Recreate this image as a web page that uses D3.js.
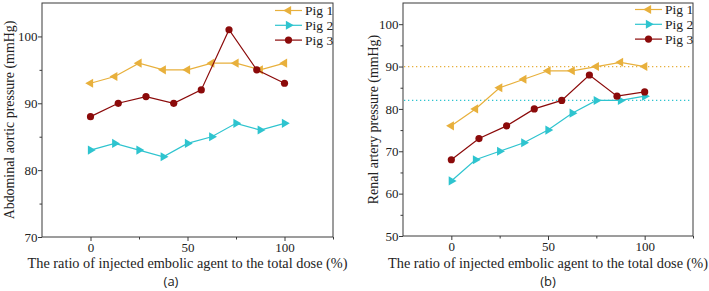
<!DOCTYPE html>
<html>
<head>
<meta charset="utf-8">
<script src="https://cdn.jsdelivr.net/npm/d3@7"></script>
<style>
  body { margin: 0; background: #fff; }
  svg { display: block; }
  .tick text { font-family: "Liberation Serif", serif; }
</style>
</head>
<body>
<div id="chart"></div>
<script>
// x positions (% of total dose)
let x_nine = [0, 12.5, 25, 37.5, 50, 62.5, 75, 87.5, 100];
let x_eight = [0, 14.3, 28.6, 42.9, 57.1, 71.4, 85.7, 100];

// (a) abdominal aortic pressure
let a_pig1 = [93, 94, 96, 95, 95, 96, 96, 95, 96];
let a_pig2 = [83, 84, 83, 82, 84, 85, 87, 86, 87];
let a_pig3 = [88, 90, 91, 90, 92, 101, 95, 93];

// (b) renal artery pressure
let b_pig1 = [76, 80, 85, 87, 89, 89, 90, 91, 90];
let b_pig2 = [63, 68, 70, 72, 75, 79, 82, 82, 83];
let b_pig3 = [68, 73, 76, 80, 82, 88, 83, 84];
let b_refs = [90, 82]; // dotted reference lines

let series_names = ["Pig 1", "Pig 2", "Pig 3"];
let x_ticks = [0, 50, 100];
let a_y_ticks = [70, 80, 90, 100];
let b_y_ticks = [50, 60, 70, 80, 90, 100];

//Options
let colors = ["#e8b03c", "#2ec4cf", "#8b0a0a"];
let serif = "Liberation Serif, Times New Roman, serif";
let frame_col = "#3a3a3a";

let svg = d3.select("#chart").append("svg")
    .attr("width", 709)
    .attr("height", 291);

let panels = [
    {
        left: 42, right: 333, top: 3, bottom: 237,
        ydom: [70, 105], yticks: a_y_ticks, yminor: [75, 85, 95],
        ytitle: "Abdominal aortic pressure (mmHg)", ytitle_x: 14,
        label: "(a)", label_x: 171,
        series: [a_pig1, a_pig2, a_pig3], xs: [x_nine, x_nine, x_eight],
        refs: [],
        legend_x: 275, legend_y: 10.5
    },
    {
        left: 403, right: 693, top: 3, bottom: 236,
        ydom: [50, 105], yticks: b_y_ticks, yminor: [55, 65, 75, 85, 95],
        ytitle: "Renal artery pressure (mmHg)", ytitle_x: 378,
        label: "(b)", label_x: 548,
        series: [b_pig1, b_pig2, b_pig3], xs: [x_nine, x_nine, x_eight],
        refs: b_refs,
        legend_x: 635, legend_y: 9.5
    }
];

function marker(g, i, cx, cy) {
    if (i == 2) {
        g.append("circle")
            .attr("cx", cx).attr("cy", cy).attr("r", 3.6)
            .style("fill", colors[i]);
    } else {
        g.append("path")
            .attr("d", d3.symbol().type(d3.symbolTriangle).size(36)())
            .attr("transform", `translate(${cx},${cy}) rotate(${i == 0 ? -90 : 90})`)
            .style("fill", colors[i]);
    }
}

panels.forEach(function(p) {
    let x = d3.scaleLinear().domain([-25, 125]).range([p.left, p.right]);
    let y = d3.scaleLinear().domain(p.ydom).range([p.bottom, p.top]);
    let g = svg.append("g");

    // frame
    g.append("rect")
        .attr("x", p.left).attr("y", p.top)
        .attr("width", p.right - p.left).attr("height", p.bottom - p.top)
        .style("fill", "none").style("stroke", frame_col).style("stroke-width", 1);

    // x axis
    let x_ax = d3.axisBottom(x).tickValues(x_ticks).tickSize(4).tickSizeOuter(0).tickFormat(d3.format("d"));
    let xg = g.append("g")
        .attr("transform", `translate(0,${p.bottom})`)
        .call(x_ax);
    xg.select(".domain").remove();
    xg.selectAll(".tick line").style("stroke", frame_col);
    xg.selectAll(".tick text").style("font-size", "13px").style("fill", "#222").attr("y", 6);
    g.append("g")
        .attr("transform", `translate(0,${p.bottom})`)
        .call(d3.axisBottom(x).tickValues([25, 75, 125]).tickSize(2.5).tickFormat(""))
        .call(s => s.select(".domain").remove())
        .selectAll("line").style("stroke", frame_col);

    // y axis
    let y_ax = d3.axisLeft(y).tickValues(p.yticks).tickSize(4).tickSizeOuter(0);
    let yg = g.append("g")
        .attr("transform", `translate(${p.left},0)`)
        .call(y_ax);
    yg.select(".domain").remove();
    yg.selectAll(".tick line").style("stroke", frame_col);
    yg.selectAll(".tick text").style("font-size", "13px").style("fill", "#222").attr("x", -4.5);
    g.append("g")
        .attr("transform", `translate(${p.left},0)`)
        .call(d3.axisLeft(y).tickValues(p.yminor).tickSize(2.5).tickFormat(""))
        .call(s => s.select(".domain").remove())
        .selectAll("line").style("stroke", frame_col);

    // reference lines
    p.refs.forEach(function(v, i) {
        g.append("line")
            .attr("x1", p.left + 1).attr("x2", p.right - 1)
            .attr("y1", y(v)).attr("y2", y(v))
            .style("stroke", colors[i]).style("stroke-width", 1.3)
            .style("stroke-dasharray", "1.3,2.7");
    });

    // series
    p.series.forEach(function(vals, i) {
        let pts = vals.map((v, j) => [x(p.xs[i][j]), y(v)]);
        g.append("path")
            .attr("d", d3.line()(pts))
            .style("fill", "none").style("stroke", colors[i]).style("stroke-width", 1.2);
        pts.forEach(pt => marker(g, i, pt[0], pt[1]));
    });

    // legend
    series_names.forEach(function(name, i) {
        let ly = p.legend_y + i * 14.8;
        g.append("line")
            .attr("x1", p.legend_x).attr("x2", p.legend_x + 27)
            .attr("y1", ly).attr("y2", ly)
            .style("stroke", colors[i]).style("stroke-width", 1.2);
        marker(g, i, p.legend_x + 13.5, ly);
        g.append("text")
            .attr("x", p.legend_x + 30).attr("y", ly)
            .attr("dy", "0.35em")
            .style("font-family", serif).style("font-size", "13.5px").style("fill", "#222")
            .text(name);
    });

    // titles
    g.append("text")
        .attr("x", (p.left + p.right) / 2).attr("y", 268)
        .attr("text-anchor", "middle")
        .style("font-family", serif).style("font-size", "14.3px").style("fill", "#222")
        .text("The ratio of injected embolic agent to the total dose (%)");

    g.append("text")
        .attr("transform", `translate(${p.ytitle_x},${(p.top + p.bottom) / 2}) rotate(-90)`)
        .attr("text-anchor", "middle")
        .style("font-family", serif).style("font-size", "13.9px").style("fill", "#222")
        .text(p.ytitle);

    g.append("text")
        .attr("x", p.label_x).attr("y", 286)
        .attr("text-anchor", "middle")
        .style("font-family", "Open Sans, sans-serif").style("font-size", "13px").style("fill", "#222")
        .text(p.label);
});
</script>
</body>
</html>
